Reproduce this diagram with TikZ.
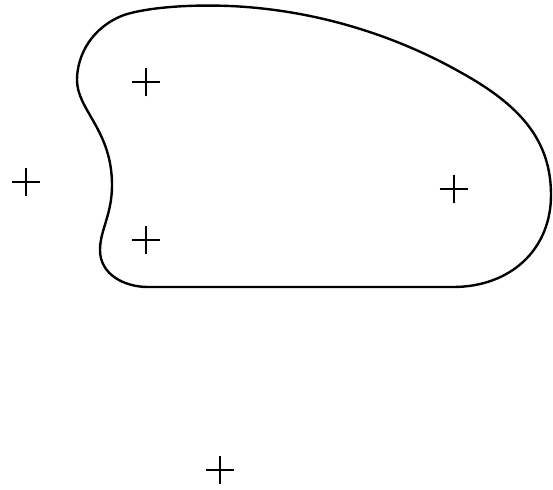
\documentclass[tikz,border=0pt]{standalone}
\usetikzlibrary{calc}

\begin{document}
\begin{tikzpicture}[
      x=0.025cm, y=-0.025cm, % pixel-like units, y downwards
      outline/.style={line width=1.7pt, line join=round}, % Style for the region
      plus/.style={line width=0.9pt}, % Style for the crosses
    ]

    \useasboundingbox (0,0) rectangle (553,489);

    % Points
    \coordinate (p1) at (146,82);
    \coordinate (p2) at (146,240);
    \coordinate (p3) at (26,182);
    \coordinate (p4) at (454,189);
    \coordinate (p5) at (220,470);

    % Region
    \draw[outline] (148,287) -- (453,287)
      .. controls (510,287) and (551,250) .. (551,195)
      .. controls (551,140) and (520,105) .. (460,72)
      .. controls (400,38) and (320,10) .. (230,6)
      .. controls (180,4) and (142,9) .. (124,15)
      .. controls (92,27) and (77,55) .. (77,80)
      .. controls (77,110) and (112,130) .. (112,185)
      .. controls (112,215) and (100,230) .. (100,250)
      .. controls (100,275) and (125,287) .. (148,287) -- cycle;

    % Crosses
    \foreach \p in {p1,p2,p3,p4,p5} {
      \draw[plus] ([xshift=-10.3pt]\p) -- ([xshift=10.3pt]\p);
      \draw[plus] ([yshift=-10.3pt]\p) -- ([yshift=10.3pt]\p);
    }

  \end{tikzpicture}
\end{document}
